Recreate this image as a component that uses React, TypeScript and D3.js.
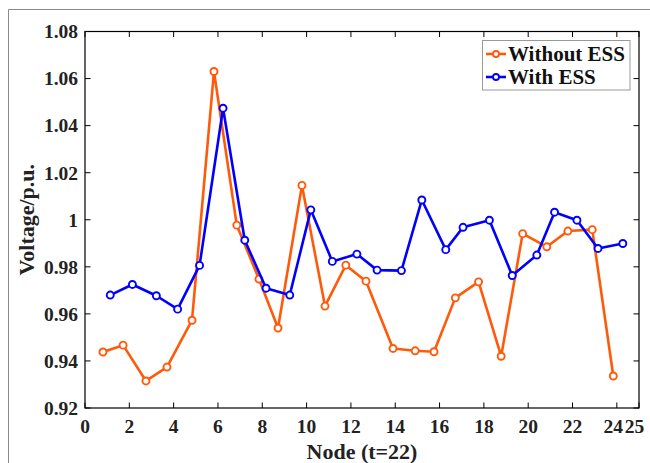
import React from "react";
import * as d3 from "d3";

// node positions and voltages
const nodesWithout = [0.81, 1.72, 2.75, 3.7, 4.83, 5.82, 6.85, 7.85, 8.71, 9.79, 10.83, 11.77, 12.68, 13.9, 14.9, 15.75, 16.71, 17.76, 18.78, 19.75, 20.84, 21.79, 22.89, 23.84];
const voltWithout = [0.9438, 0.9467, 0.9315, 0.9374, 0.9573, 1.063, 0.9977, 0.9748, 0.954, 1.0146, 0.9633, 0.9807, 0.9739, 0.9453, 0.9443, 0.9439, 0.9668, 0.9736, 0.942, 0.9941, 0.9885, 0.9952, 0.9958, 0.9336];

const nodesWith = [1.14, 2.14, 3.22, 4.18, 5.17, 6.23, 7.21, 8.17, 9.24, 10.19, 11.16, 12.27, 13.18, 14.28, 15.2, 16.28, 17.06, 18.25, 19.28, 20.39, 21.19, 22.2, 23.15, 24.27];
const voltWith = [0.968, 0.9725, 0.9677, 0.962, 0.9806, 1.0474, 0.9913, 0.9709, 0.968, 1.0042, 0.9823, 0.9854, 0.9786, 0.9784, 1.0084, 0.9873, 0.9968, 0.9998, 0.9763, 0.985, 1.0032, 0.9998, 0.9878, 0.9899];

const xTicks = [0, 2, 4, 6, 8, 10, 12, 14, 16, 18, 20, 22, 24, 25];
const yTicks = [0.92, 0.94, 0.96, 0.98, 1.0, 1.02, 1.04, 1.06, 1.08];

const series = [
  { name: "Without ESS", color: "#ff5a0a", xs: nodesWithout, ys: voltWithout },
  { name: "With ESS", color: "#0000ff", xs: nodesWith, ys: voltWith },
];

const W = 650;
const H = 463;
const left = 85, right = 639, top = 31.5, bottom = 408;
const font = "'Liberation Serif', 'Times New Roman', serif";

export default function App() {
  const x = d3.scaleLinear().domain([0, 25]).range([left, right]);
  const y = d3.scaleLinear().domain([0.92, 1.08]).range([bottom, top]);
  const line = d3.line<[number, number]>().x(d => x(d[0])).y(d => y(d[1]));

  const fmtY = (v: number) => (Math.abs(v - 1) < 1e-9 ? "1" : d3.format(".2f")(v));
  // 24 and 25 sit so close that their labels run together, as in the original
  const xLabelPos = (t: number) => (t === 24 ? x(t) - 3.5 : t === 25 ? x(t) - 4.5 : x(t));

  return (
    <svg width={W} height={H} style={{ position: "absolute", left: 0, top: 0, background: "#fff" }}
      fontFamily={font} fontWeight="bold">
      {/* outer frame */}
      <path d={`M${W},9.5 H8.5 V${H}`} fill="none" stroke="#8a8a8a" strokeWidth={1} />

      {/* ticks */}
      {xTicks.map(t => (
        <g key={"x" + t}>
          <line x1={x(t)} x2={x(t)} y1={bottom} y2={bottom - 5.5} stroke="#000" />
          <line x1={x(t)} x2={x(t)} y1={top} y2={top + 5.5} stroke="#000" />
        </g>
      ))}
      {yTicks.map(t => (
        <g key={"y" + t}>
          <line x1={left} x2={left + 5.5} y1={y(t)} y2={y(t)} stroke="#000" />
          <line x1={right} x2={right - 5.5} y1={y(t)} y2={y(t)} stroke="#000" />
          <text x={left - 7} y={y(t)} dy="0.35em" textAnchor="end" fontSize={19.5} fill="#222">
            {fmtY(t)}
          </text>
        </g>
      ))}
      {xTicks.map(t => (
        <text key={"xl" + t} x={xLabelPos(t)} y={bottom + 25} textAnchor="middle" fontSize={19.5} fill="#222">
          {t}
        </text>
      ))}

      {/* lines */}
      {series.map(s => {
        const pts = s.xs.map((v, i) => [v, s.ys[i]] as [number, number]);
        return (
          <g key={s.name}>
            <path d={line(pts) || ""} fill="none" stroke={s.color} strokeWidth={2.6} strokeLinejoin="round" />
            {pts.map((p, i) => (
              <circle key={i} cx={x(p[0])} cy={y(p[1])} r={3.5} fill="#fff" stroke={s.color} strokeWidth={1.9} />
            ))}
          </g>
        );
      })}

      {/* plot box */}
      <rect x={left} y={top} width={right - left} height={bottom - top} fill="none" stroke="#000" strokeWidth={1.2} />

      {/* axis titles */}
      <text x={(left + right) / 2} y={459} textAnchor="middle" fontSize={22} fill="#222">Node (t=22)</text>
      <text transform={`translate(34,${(top + bottom) / 2}) rotate(-90)`} textAnchor="middle" fontSize={22} fill="#222">
        Voltage/p.u.
      </text>

      {/* legend */}
      <rect x={482.5} y={40.5} width={147.5} height={49.5} fill="#fff" stroke="#999" strokeWidth={1} />
      {series.map((s, i) => {
        const cy = 54 + i * 23;
        return (
          <g key={"lg" + s.name}>
            <line x1={486} x2={506} y1={cy} y2={cy} stroke={s.color} strokeWidth={2.6} />
            <circle cx={496} cy={cy} r={3} fill="#fff" stroke={s.color} strokeWidth={1.8} />
            <text x={508} y={cy} dy="0.35em" fontSize={21} fill="#111">{s.name}</text>
          </g>
        );
      })}
    </svg>
  );
}
